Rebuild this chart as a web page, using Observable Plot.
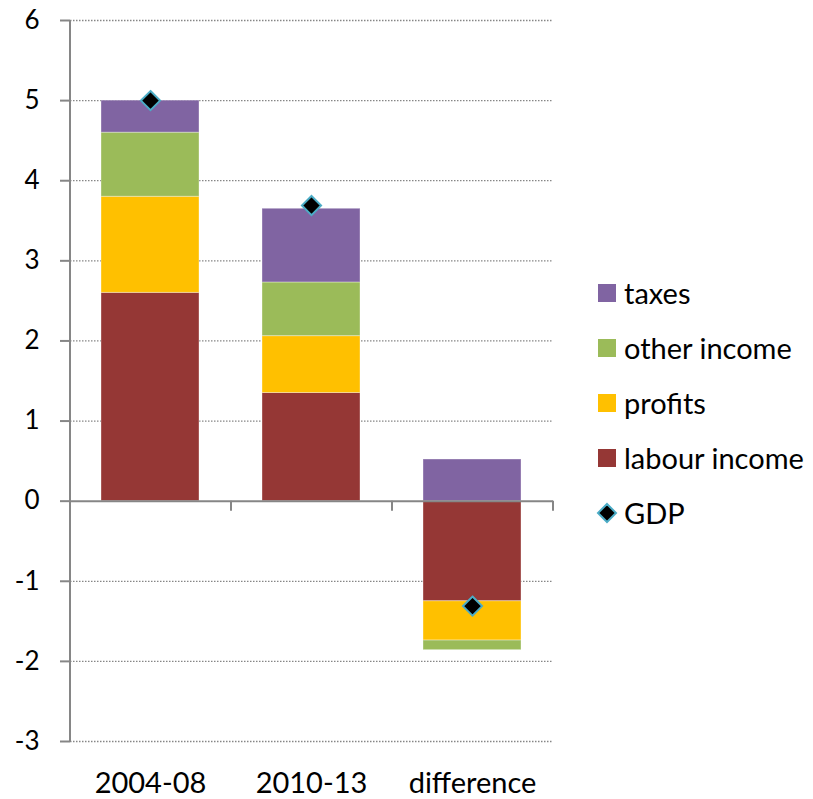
<!DOCTYPE html>
<html>
<head>
<meta charset="utf-8">
<script src="https://cdn.jsdelivr.net/npm/d3@7"></script>
<script src="https://cdn.jsdelivr.net/npm/@observablehq/plot@0.6"></script>
<style>
  html, body { margin: 0; padding: 0; background: #fff; }
  #wrap { position: relative; width: 813px; height: 799px; font-family: Lato, "Open Sans", sans-serif; }
  #legend { position: absolute; left: 598px; top: 265px; }
  .row { display: flex; align-items: center; height: 55px; font-size: 29px; color: #000; white-space: nowrap; }
  .sw { width: 18px; height: 18px; margin-right: 8px; }
  .mk { width: 22px; height: 22px; margin-left: -2px; margin-right: 6px; }
</style>
</head>
<body>
<div id="wrap"><div id="legend"></div></div>
<script>
const categories = ["2004-08", "2010-13", "difference"];
const components = ["labour income", "profits", "other income", "taxes"];
const colors = ["#953735", "#FFC000", "#9BBB59", "#8064A2"];
const labourIncome = [2.6, 1.35, -1.25];
const profits = [1.2, 0.71, -0.49];
const otherIncome = [0.8, 0.67, -0.12];
const taxes = [0.4, 0.92, 0.52];
const gdp = [5.0, 3.69, -1.31];
const yTicks = [-3, -2, -1, 0, 1, 2, 3, 4, 5, 6];
const legendOrder = ["taxes", "other income", "profits", "labour income"];

const seriesValues = [labourIncome, profits, otherIncome, taxes];
const rows = [];
components.forEach((c, j) => categories.forEach((cat, i) => rows.push({category: cat, component: c, value: seriesValues[j][i]})));
const gdpRows = categories.map((cat, i) => ({category: cat, value: gdp[i]}));

const axisColor = "#868686";
const halfStep = 80.5;

const chart = Plot.plot({
  width: 813,
  height: 799,
  marginTop: 20,
  marginBottom: 58,
  marginLeft: 70,
  marginRight: 260,
  style: {fontFamily: "Lato, 'Open Sans', sans-serif", background: "white", color: "#000", overflow: "visible"},
  x: {domain: categories, paddingInner: 0.39, paddingOuter: 0.195},
  y: {domain: [-3, 6]},
  color: {domain: components, range: colors},
  marks: [
    Plot.gridY(yTicks.filter(t => t !== 0), {stroke: axisColor, strokeOpacity: 1, strokeWidth: 1.3, strokeDasharray: "1.5,1.5"}),
    Plot.barY(rows, {x: "category", y: "value", fill: "component", order: components, stroke: "white", strokeOpacity: 0.35, strokeWidth: 1}),
    Plot.ruleY([0], {stroke: axisColor, strokeWidth: 2}),
    Plot.ruleX([categories[0]], {x: d => d, y1: -3, y2: 6, dx: -halfStep, stroke: axisColor, strokeWidth: 2}),
    Plot.ruleX(categories, {x: d => d, y1: 0, y2: 0, insetBottom: -10, dx: halfStep, stroke: axisColor, strokeWidth: 2}),
    Plot.axisY({ticks: yTicks, tickFormat: d => String(d), tickSize: 10, tickPadding: 21, fontSize: 26, stroke: axisColor, strokeWidth: 2, fill: "#000", label: null}),
    Plot.axisX({tickSize: 0, tickPadding: 31, fontSize: 29, fill: "#000", label: null}),
    Plot.dot(gdpRows, {x: "category", y: "value", symbol: "diamond2", r: 8.6, fill: "black", stroke: "#4BACC6", strokeWidth: 2})
  ]
});
document.getElementById("wrap").prepend(chart);

const legend = document.getElementById("legend");
legendOrder.forEach(name => {
  const row = document.createElement("div");
  row.className = "row";
  const sw = document.createElement("div");
  sw.className = "sw";
  sw.style.background = colors[components.indexOf(name)];
  row.appendChild(sw);
  row.appendChild(document.createTextNode(name));
  legend.appendChild(row);
});
const grow = document.createElement("div");
grow.className = "row";
grow.innerHTML = '<svg class="mk" viewBox="0 0 22 22"><polygon points="11,2 20,11 11,20 2,11" fill="black" stroke="#4BACC6" stroke-width="2"/></svg>GDP';
legend.appendChild(grow);
</script>
</body>
</html>
